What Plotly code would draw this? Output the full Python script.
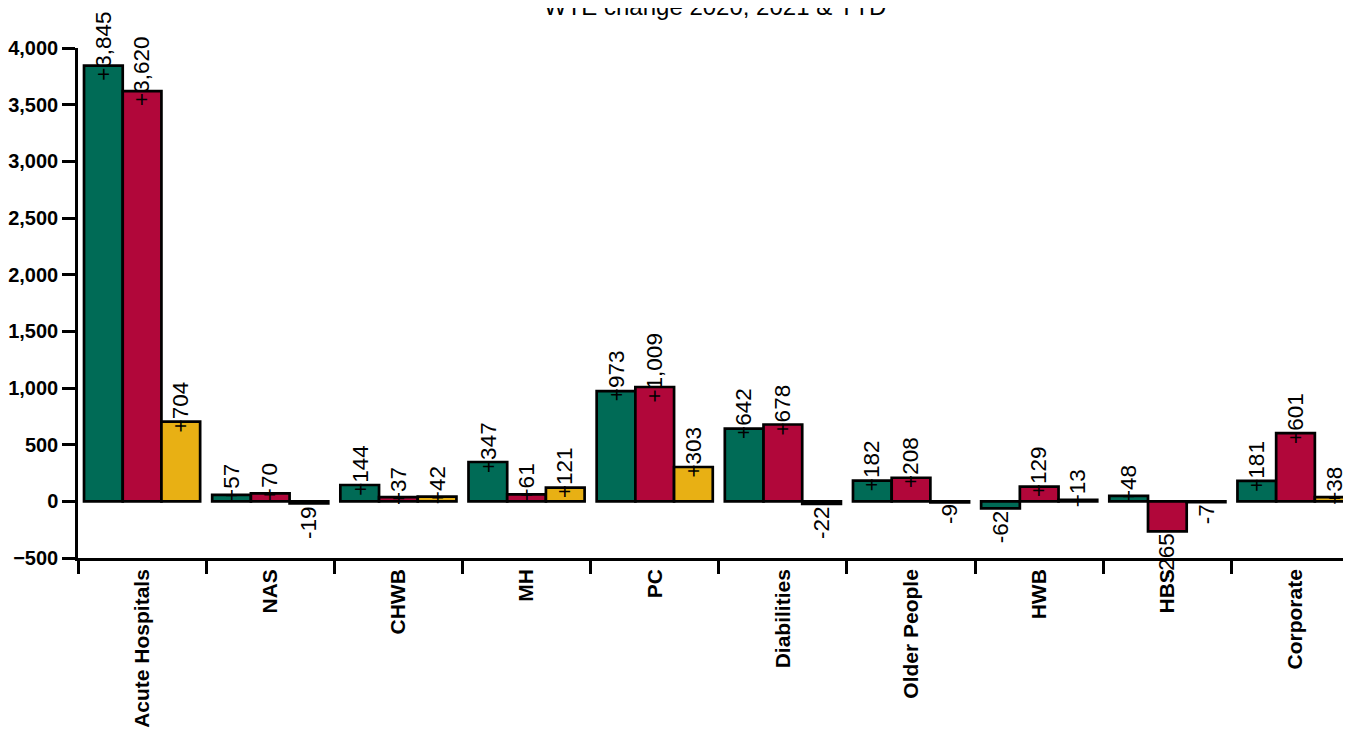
import plotly.graph_objects as go

categories = ["Acute Hospitals", "NAS", "CHWB", "MH", "PC", "Diabilities",
              "Older People", "HWB", "HBS", "Corporate"]
series_names = ["2020", "2021", "YTD"]
values_2020 = [3845, 57, 144, 347, 973, 642, 182, -62, 48, 181]
values_2021 = [3620, 70, 37, 61, 1009, 678, 208, 129, -265, 601]
values_ytd = [704, -19, 42, 121, 303, -22, -9, 13, -7, 38]
y_ticks = [-500, 0, 500, 1000, 1500, 2000, 2500, 3000, 3500, 4000]

colors = ["#006B56", "#B1073A", "#E8B014"]
all_series = [values_2020, values_2021, values_ytd]

FONT = "Liberation Sans, Arial, sans-serif"
BARGAP = 0.094
LABEL_SIZE = 22.5

fig = go.Figure()
for name, vals, col in zip(series_names, all_series, colors):
    fig.add_trace(go.Bar(
        name=name, x=categories, y=vals,
        marker=dict(color=col, line=dict(color="black", width=2.7)),
        showlegend=False,
    ))


def fmt(v):
    return ("+" if v > 0 else "") + f"{v:,}"


def text_len(s, size):
    w = {"+": 0.584, ",": 0.278, "-": 0.333}
    return sum(w.get(c, 0.556) for c in s) * size


bar_w = (1 - BARGAP) / 3
annotations = []
for j, vals in enumerate(all_series):
    for i, v in enumerate(vals):
        t = fmt(v)
        xpos = i + (j - 1) * bar_w
        if v >= 0:
            annotations.append(dict(
                x=xpos, y=v, xref="x", yref="y", text=t, showarrow=False,
                textangle=-90, xanchor="center", yanchor="bottom",
                yshift=-0.25 * text_len(t, LABEL_SIZE),
                font=dict(family=FONT, size=LABEL_SIZE, color="black"),
            ))
        else:
            annotations.append(dict(
                x=xpos, y=v, xref="x", yref="y", text=t, showarrow=False,
                textangle=-90, xanchor="center", yanchor="top", yshift=0,
                font=dict(family=FONT, size=LABEL_SIZE, color="black"),
            ))

# chart title (placed partly above the page top, as in the reference)
annotations.append(dict(
    x=0.5, y=1, xref="paper", yref="paper", text="WTE change 2020, 2021 & YTD",
    showarrow=False, xanchor="center", yanchor="middle", yshift=42,
    font=dict(family=FONT, size=24, color="black"),
))

fig.update_layout(
    width=1343, height=722,
    margin=dict(l=70, r=0, t=40, b=172, pad=0),
    paper_bgcolor="white", plot_bgcolor="white",
    barmode="group", bargap=BARGAP, bargroupgap=0,
    annotations=annotations,
    xaxis=dict(
        range=[-0.5, 9.433], showgrid=False, zeroline=False,
        showline=True, linecolor="black", linewidth=2.5,
        ticks="outside", ticklen=13, tickwidth=2.5, tickcolor="black",
        tickson="boundaries", tickangle=-90,
        tickfont=dict(family=FONT, size=21, color="black", weight="bold"),
    ),
    yaxis=dict(
        range=[-500, 4000], showgrid=False, zeroline=False,
        showline=True, linecolor="black", linewidth=2.5,
        ticks="outside", ticklen=13, tickwidth=2.5, tickcolor="black",
        tickvals=y_ticks, tickformat=",d",
        tickfont=dict(family=FONT, size=20, color="black", weight="bold"),
    ),
)

fig.write_html("out.html")
